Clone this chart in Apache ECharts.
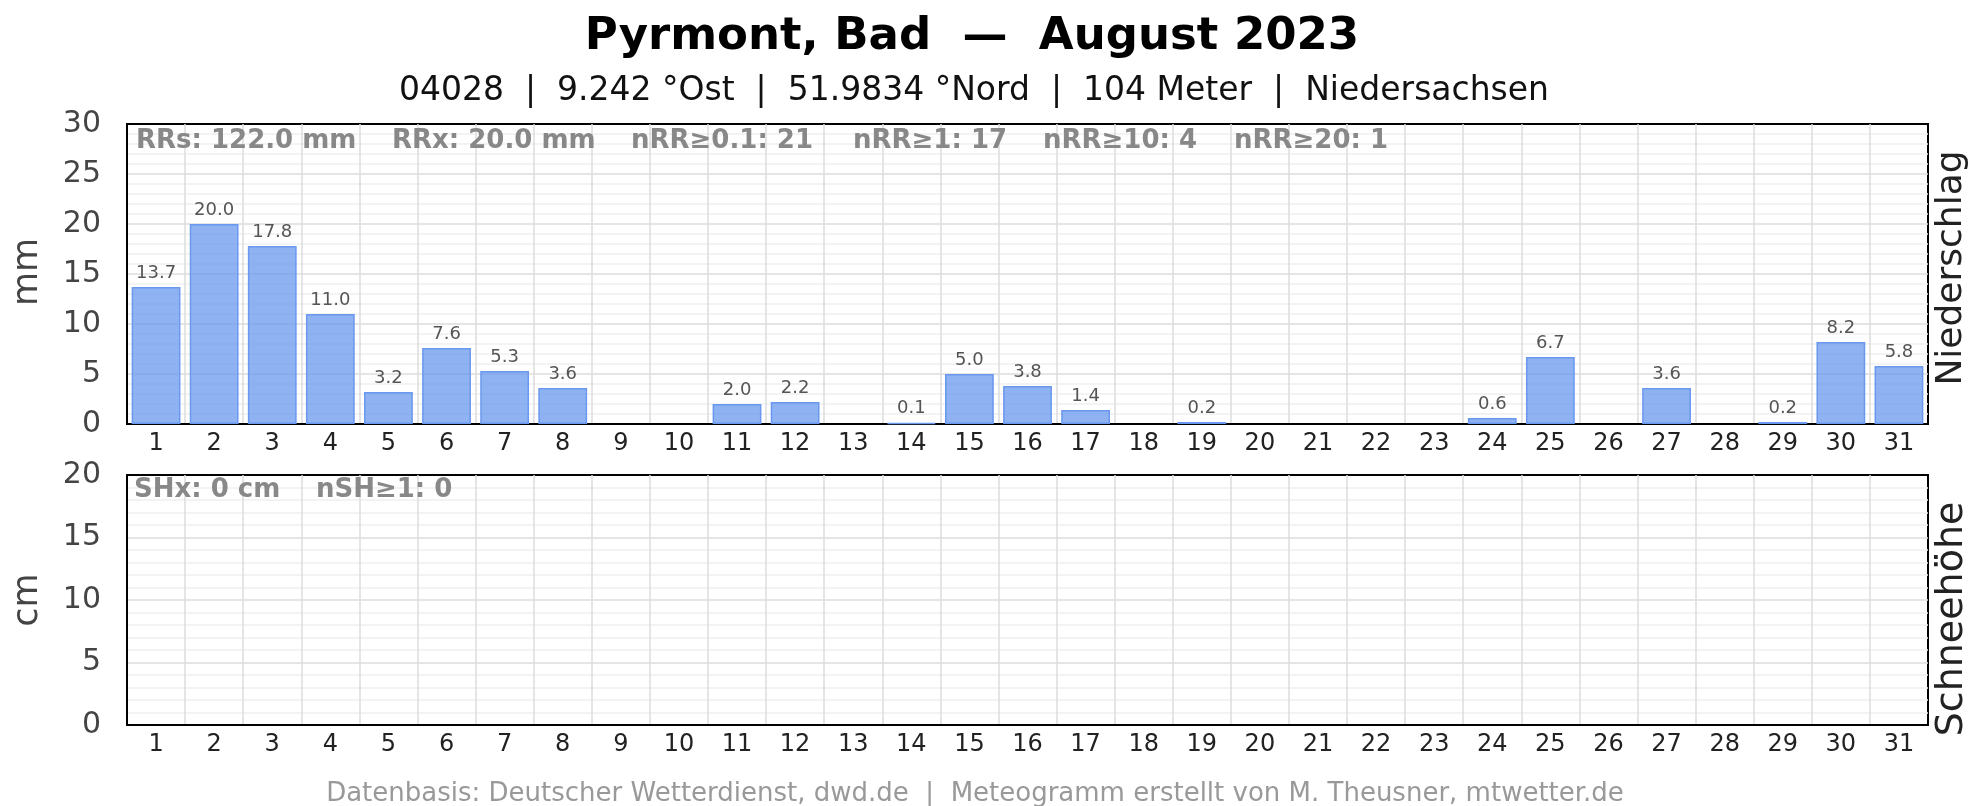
<!DOCTYPE html>
<html lang="de">
<head>
<meta charset="UTF-8">
<title>Pyrmont, Bad - August 2023</title>
<script src="https://cdn.jsdelivr.net/npm/echarts@6/dist/echarts.min.js"></script>
<style>
  html, body { margin: 0; padding: 0; background: #fff; }
  #chart { width: 1972px; height: 806px; }
</style>
</head>
<body>
<div id="chart"></div>
<script>
// Tage im August
var days = ['1','2','3','4','5','6','7','8','9','10','11','12','13','14','15','16',
            '17','18','19','20','21','22','23','24','25','26','27','28','29','30','31'];
// Niederschlag in mm
var rain = [13.7, 20.0, 17.8, 11.0, 3.2, 7.6, 5.3, 3.6, 0, 0, 2.0, 2.2, 0, 0.1, 5.0, 3.8,
            1.4, 0, 0.2, 0, 0, 0, 0, 0.6, 6.7, 0, 3.6, 0, 0.2, 8.2, 5.8];
// Schneehoehe in cm
var snow = [0, 0, 0, 0, 0, 0, 0, 0, 0, 0, 0, 0, 0, 0, 0, 0,
            0, 0, 0, 0, 0, 0, 0, 0, 0, 0, 0, 0, 0, 0, 0];
var rainTicks = [0, 5, 10, 15, 20, 25, 30];
var snowTicks = [0, 5, 10, 15, 20];
var rainStats = ['RRs: 122.0 mm', 'RRx: 20.0 mm', 'nRR\u22650.1: 21', 'nRR\u22651: 17', 'nRR\u226510: 4', 'nRR\u226520: 1'];
var snowStats = ['SHx: 0 cm', 'nSH\u22651: 0'];

var titleText = 'Pyrmont, Bad  \u2014  August 2023';
var subText = '04028  |  9.242 \u00b0Ost  |  51.9834 \u00b0Nord  |  104 Meter  |  Niedersachsen';
var footText = 'Datenbasis: Deutscher Wetterdienst, dwd.de  |  Meteogramm erstellt von M. Theusner, mtwetter.de';

var FONT = 'DejaVu Sans';
var chart = echarts.init(document.getElementById('chart'));

function xAxisCfg(idx) {
  return {
    type: 'category', gridIndex: idx, data: days, z: 3,
    axisLine: { show: true, lineStyle: { color: '#000', width: 2 } },
    axisTick: { show: false },
    axisLabel: { color: '#222', fontSize: 24, fontFamily: FONT, margin: 8 },
    splitLine: { show: true, showMinLine: false, showMaxLine: false, lineStyle: { color: '#dcdcdc', width: 1.5 } }
  };
}
function yAxisCfg(idx, ticks) {
  return {
    type: 'value', gridIndex: idx, min: ticks[0], max: ticks[ticks.length - 1], interval: 5, z: 3,
    axisLine: { show: true, lineStyle: { color: '#000', width: 2 } },
    axisTick: { show: false },
    axisLabel: { color: '#444', fontSize: 30, fontFamily: FONT, margin: 26 },
    splitLine: { show: true, showMinLine: false, showMaxLine: false, lineStyle: { color: '#dcdcdc', width: 1.5 } },
    minorTick: { show: false, splitNumber: 5 },
    minorSplitLine: { show: true, lineStyle: { color: '#efefef', width: 1.5 } }
  };
}

function txt(x, y, s, font, fill, extra) {
  var g = { type: 'text', x: x, y: y, z: 10, style: { text: s, font: font, fill: fill, textAlign: 'center', textVerticalAlign: 'middle' } };
  if (extra) { for (var k in extra) g[k] = extra[k]; }
  return g;
}

var graphics = [
  txt(972, 37, titleText, 'bold 45px "' + FONT + '"', '#000'),
  txt(974, 91, subText, '33px "' + FONT + '"', '#111'),
  txt(975, 794, footText, '26px "' + FONT + '"', '#999'),
  txt(28, 272, 'mm', '35px "' + FONT + '"', '#444', { rotation: Math.PI / 2 }),
  txt(28, 600, 'cm', '35px "' + FONT + '"', '#444', { rotation: Math.PI / 2 }),
  txt(1952, 268, 'Niederschlag', '36px "' + FONT + '"', '#222', { rotation: Math.PI / 2 }),
  txt(1952, 619, 'Schneeh\u00f6he', '38px "' + FONT + '"', '#222', { rotation: Math.PI / 2 })
];
var rainX = [136, 392, 631, 853, 1043, 1234];
rainStats.forEach(function (s, i) {
  graphics.push({ type: 'text', x: rainX[i], y: 141, z: 10, style: { text: s, font: 'bold 26px "' + FONT + '"', fill: '#888', textVerticalAlign: 'middle' } });
});
var snowX = [134, 316];
snowStats.forEach(function (s, i) {
  graphics.push({ type: 'text', x: snowX[i], y: 490, z: 10, style: { text: s, font: 'bold 26px "' + FONT + '"', fill: '#888', textVerticalAlign: 'middle' } });
});

var barStyle = { color: 'rgba(100,149,237,0.72)', borderColor: '#6a98ee', borderWidth: 1.5 };
// Tage ohne Wert bekommen keinen Rand, sonst sieht man einen Strich auf der Achse
function toBars(arr) {
  return arr.map(function (v) {
    return v > 0 ? v : { value: v, itemStyle: { borderWidth: 0, opacity: 0 } };
  });
}

var option = {
  animation: false,
  backgroundColor: '#fff',
  textStyle: { fontFamily: FONT },
  grid: [
    { left: 127, top: 124, width: 1801, height: 300, show: true, borderColor: '#000', borderWidth: 2, backgroundColor: 'transparent' },
    { left: 127, top: 475, width: 1801, height: 250, show: true, borderColor: '#000', borderWidth: 2, backgroundColor: 'transparent' }
  ],
  xAxis: [xAxisCfg(0), xAxisCfg(1)],
  yAxis: [yAxisCfg(0, rainTicks), yAxisCfg(1, snowTicks)],
  graphic: graphics,
  series: [
    {
      name: 'Niederschlag', type: 'bar', xAxisIndex: 0, yAxisIndex: 0, data: toBars(rain), z: 6,
      barCategoryGap: '16%',
      itemStyle: barStyle,
      label: {
        show: true, position: 'top', distance: 5, color: '#555', fontSize: 18, fontFamily: FONT,
        formatter: function (p) { return p.value > 0 ? p.value.toFixed(1) : ''; }
      }
    },
    {
      name: 'Schneeh\u00f6he', type: 'bar', xAxisIndex: 1, yAxisIndex: 1, data: toBars(snow), z: 6,
      barCategoryGap: '16%',
      itemStyle: barStyle
    }
  ]
};
chart.setOption(option);
</script>
</body>
</html>
